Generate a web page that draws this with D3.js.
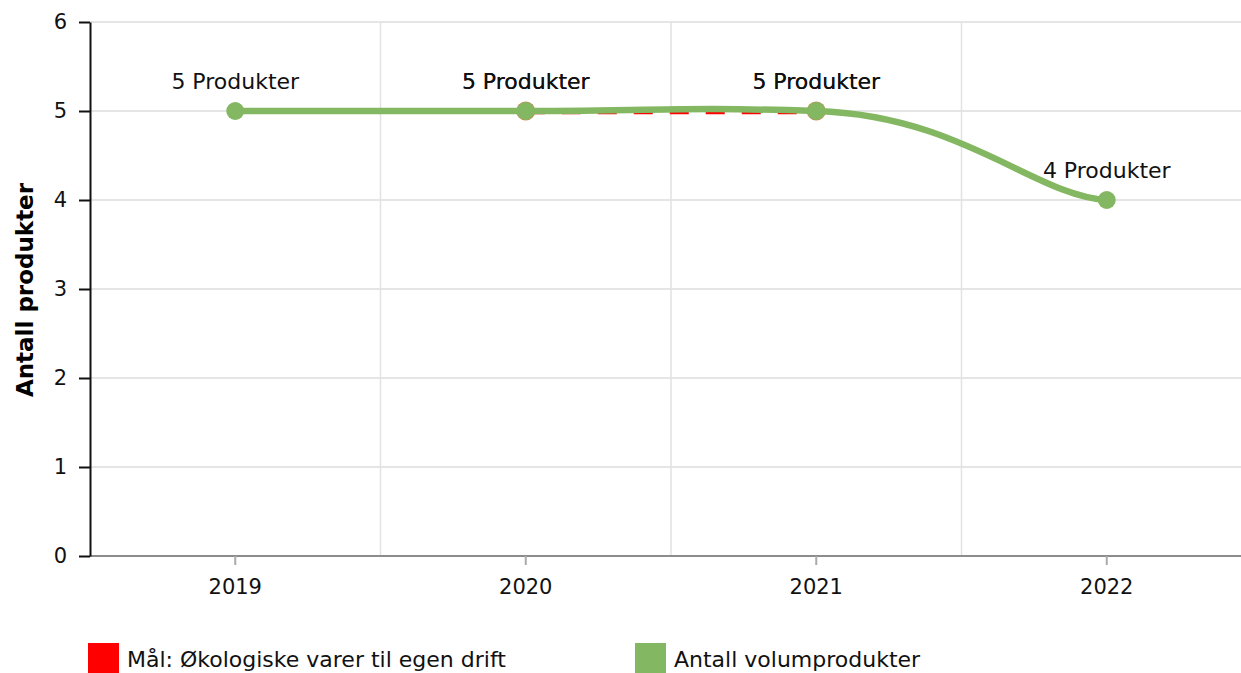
<!DOCTYPE html>
<html>
<head>
<meta charset="utf-8">
<script src="https://cdn.jsdelivr.net/npm/d3@7"></script>
<style>
  html, body { margin: 0; padding: 0; background: #fff; }
  svg { display: block; font-family: "DejaVu Sans", Verdana, sans-serif; }
</style>
</head>
<body>
<svg id="chart" width="1241" height="673"></svg>
<script>
// ---- data ----
const years = ["2019", "2020", "2021", "2022"];
const volumValues = [5, 5, 5, 4];          // Antall volumprodukter
const maalYears = ["2020", "2021"];
const maalValues = [5, 5];                 // Mål: Økologiske varer til egen drift
const yTickValues = [0, 1, 2, 3, 4, 5, 6];
const legendNames = ["Mål: Økologiske varer til egen drift", "Antall volumprodukter"];
const legendColors = ["#ff0000", "#84b761"];

// smoothed line: control points at 1/4 of the neighbour span in x, 1/20 in y
function curveSmooth(context) {
  let pts;
  return {
    areaStart() {}, areaEnd() {},
    lineStart() { pts = []; },
    point(px, py) { pts.push([+px, +py]); },
    lineEnd() {
      const n = pts.length;
      if (!n) return;
      context.moveTo(pts[0][0], pts[0][1]);
      for (let i = 0; i < n - 1; i++) {
        const p0 = pts[Math.max(0, i - 1)], p1 = pts[i], p2 = pts[i + 1], p3 = pts[Math.min(n - 1, i + 2)];
        context.bezierCurveTo(
          p1[0] + (p2[0] - p0[0]) / 4, p1[1] + (p2[1] - p0[1]) / 20,
          p2[0] - (p3[0] - p1[0]) / 4, p2[1] - (p3[1] - p1[1]) / 20,
          p2[0], p2[1]);
      }
    }
  };
}

// ---- layout ----
const svg = d3.select("#chart");
const plotLeft = 90, plotTop = 22, plotBottom = 556;
const band = 290.5;

const x = d3.scaleBand().domain(years).range([plotLeft, plotLeft + band * years.length]);
const y = d3.scaleLinear().domain([0, 6]).range([plotBottom, plotTop]);
const cx = d => x(d) + x.bandwidth() / 2;

// horizontal grid
svg.append("g")
  .selectAll("line")
  .data(yTickValues.filter(d => d > 0))
  .join("line")
  .attr("x1", plotLeft).attr("x2", 1241)
  .attr("y1", d => y(d)).attr("y2", d => y(d))
  .attr("stroke", "#dcdcdc").attr("stroke-width", 1.5);

// vertical grid at band edges
svg.append("g")
  .selectAll("line")
  .data(years.slice(1))
  .join("line")
  .attr("x1", d => x(d)).attr("x2", d => x(d))
  .attr("y1", plotTop).attr("y2", plotBottom)
  .attr("stroke", "#e2e2e2").attr("stroke-width", 1.5);

// x axis (gray)
const xAxis = svg.append("g")
  .attr("transform", `translate(0,${plotBottom})`)
  .call(d3.axisBottom(x).tickSize(9).tickPadding(14).tickSizeOuter(0));
xAxis.select(".domain").attr("stroke", "#8c8c8c").attr("stroke-width", 2)
  .attr("d", `M${plotLeft},0H1241`);
xAxis.selectAll(".tick line").attr("stroke", "#aaaaaa").attr("stroke-width", 2);
xAxis.selectAll(".tick text")
  .attr("font-size", 21).attr("font-family", "DejaVu Sans").attr("fill", "#111");

// y axis (black)
const yAxis = svg.append("g")
  .attr("transform", `translate(${plotLeft},0)`)
  .call(d3.axisLeft(y).tickValues(yTickValues).tickFormat(d3.format("d"))
    .tickSize(11).tickPadding(12).tickSizeOuter(0));
yAxis.select(".domain").attr("stroke", "#111").attr("stroke-width", 2);
yAxis.selectAll(".tick line").attr("stroke", "#111").attr("stroke-width", 2);
yAxis.selectAll(".tick text")
  .attr("font-size", 21).attr("font-family", "DejaVu Sans").attr("fill", "#111");

// y title
svg.append("text")
  .attr("transform", `translate(33,${(plotTop + plotBottom) / 2 + 1}) rotate(-90)`)
  .attr("text-anchor", "middle")
  .attr("font-size", 23).attr("font-weight", "bold").attr("fill", "#000")
  .text("Antall produkter");

// target line (red dashed), sits a touch below the green line
const maalData = maalYears.map((d, i) => ({ year: d, value: maalValues[i] }));
svg.append("path")
  .datum(maalData)
  .attr("transform", "translate(0,2)")
  .attr("fill", "none")
  .attr("stroke", "#ff0000")
  .attr("stroke-width", 2.5)
  .attr("stroke-dasharray", "19,17")
  .attr("d", d3.line().x(d => cx(d.year)).y(d => y(d.value)));

svg.append("g")
  .selectAll("circle")
  .data(maalData)
  .join("circle")
  .attr("cx", d => cx(d.year))
  .attr("cy", d => y(d.value))
  .attr("r", 9.5)
  .attr("fill", "#c98a5a");

// volume line (green, smoothed)
const volumData = years.map((d, i) => ({ year: d, value: volumValues[i] }));
svg.append("path")
  .datum(volumData)
  .attr("fill", "none")
  .attr("stroke", "#84b761")
  .attr("stroke-width", 6.5)
  .attr("stroke-linecap", "round")
  .attr("d", d3.line().x(d => cx(d.year)).y(d => y(d.value)).curve(curveSmooth));

svg.append("g")
  .selectAll("circle")
  .data(volumData)
  .join("circle")
  .attr("cx", d => cx(d.year))
  .attr("cy", d => y(d.value))
  .attr("r", 9)
  .attr("fill", "#84b761");

// value labels (target labels drawn over the same spots)
const labelData = volumData.concat(maalData);
svg.append("g")
  .selectAll("text")
  .data(labelData)
  .join("text")
  .attr("x", d => cx(d.year))
  .attr("y", d => y(d.value) - 22)
  .attr("text-anchor", "middle")
  .attr("font-size", 22).attr("fill", "#111")
  .text(d => `${d.value} Produkter`);

// legend
const legend = svg.append("g")
  .selectAll("g")
  .data(legendNames)
  .join("g")
  .attr("transform", (d, i) => `translate(${88 + i * 547},643)`);
legend.append("rect")
  .attr("width", 31).attr("height", 31)
  .attr("fill", (d, i) => legendColors[i]);
legend.append("text")
  .attr("x", 39).attr("y", 24)
  .attr("font-size", 22).attr("fill", "#111")
  .text(d => d);
</script>
</body>
</html>
